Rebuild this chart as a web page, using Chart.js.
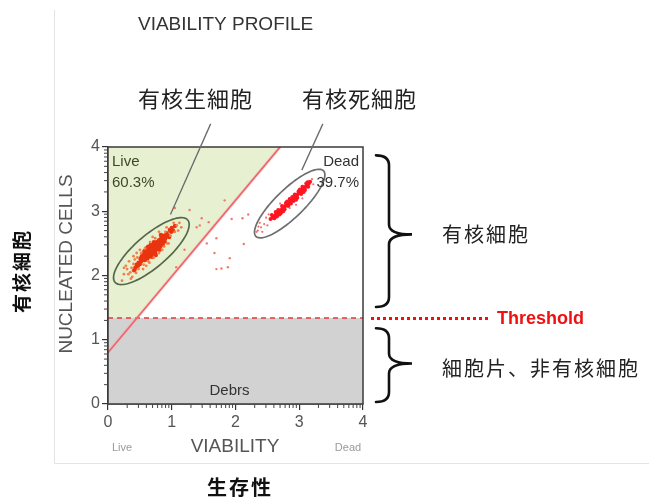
<!DOCTYPE html>
<html>
<head>
<meta charset="utf-8">
<script src="https://cdn.jsdelivr.net/npm/chart.js@4/dist/chart.umd.min.js"></script>
<style>
  html, body { margin: 0; padding: 0; background: #ffffff; }
  canvas { display: block; }
</style>
</head>
<body>
<canvas id="c" width="649" height="498"></canvas>
<script>
// ---------------- data ----------------
const chartTitle = 'VIABILITY PROFILE';
const xTickLabels = ['0', '1', '2', '3', '4'];
const yTickLabels = ['0', '1', '2', '3', '4'];
const xAxisTitle = 'VIABILITY';
const yAxisTitle = 'NUCLEATED CELLS';
const xEndLabels = ['Live', 'Dead'];
const gateNames = ['Live', 'Dead'];
const gatePercents = ['60.3%', '39.7%'];
const debrisLabel = 'Debrs';
const thresholdLabel = 'Threshold';
const threshold = 1.34;
const gateLine = [[0, 0.8], [2.7, 4]];
const calloutLive = '有核生細胞';
const calloutDead = '有核死細胞';
const nucleatedLabel = '有核細胞';
const debrisJa = '細胞片、非有核細胞';
const yAxisJa = '有核細胞';
const xAxisJa = '生存性';

const liveCells = [
  [0.62,2.33],[0.66,2.36],[0.70,2.40],[0.74,2.43],[0.78,2.47],[0.58,2.30],[0.55,2.27],[0.82,2.50],[0.86,2.54],[0.90,2.58],
  [0.64,2.40],[0.68,2.44],[0.72,2.47],[0.76,2.52],[0.60,2.36],[0.56,2.33],[0.80,2.55],[0.84,2.59],
  [0.66,2.30],[0.70,2.34],[0.74,2.37],[0.78,2.41],[0.62,2.27],[0.58,2.24],[0.82,2.45],[0.86,2.48],
  [0.52,2.22],[0.50,2.18],[0.48,2.20],[0.54,2.25],[0.94,2.62],[0.92,2.66],[0.96,2.60],[0.88,2.62],
  [0.60,2.42],[0.72,2.52],[0.67,2.48],[0.75,2.32],[0.69,2.29],[0.81,2.40],[0.57,2.38],[0.63,2.45],
  [0.71,2.38],[0.77,2.44],[0.65,2.34],[0.73,2.41],[0.79,2.50],[0.61,2.31],[0.69,2.42],[0.75,2.48],
  [0.85,2.52],[0.87,2.57],[0.83,2.63],[0.89,2.53],[0.53,2.30],[0.51,2.26],[0.47,2.15],[0.45,2.17],
  [0.99,2.68],[1.02,2.70],[1.00,2.74],[0.97,2.71],[1.05,2.77],[0.43,2.12],[0.41,2.08],
  [0.59,2.33],[0.63,2.37],[0.67,2.41],[0.71,2.44],[0.75,2.45],[0.79,2.44],[0.83,2.56],[0.77,2.49],[0.73,2.45],[0.65,2.38],
  [0.61,2.35],[0.57,2.27],[0.53,2.24],[0.69,2.37],[0.81,2.52],[0.87,2.60],[0.91,2.62],[0.68,2.47],[0.64,2.31],[0.72,2.36]
];
const liveHalo = [
  [0.35,2.05],[0.30,2.10],[0.38,1.98],[0.28,2.15],[0.33,2.22],[0.40,2.30],[0.45,2.35],[0.25,2.02],[0.36,1.95],
  [0.55,2.10],[0.60,2.15],[0.65,2.20],[0.85,2.40],[0.95,2.50],[1.10,2.70],[1.12,2.82],[0.80,2.68],[0.70,2.60],
  [0.92,2.75],[1.15,2.75],[0.50,2.40],[0.42,2.25],[0.25,2.12],[0.22,1.92],[1.08,2.78],
  [0.40,2.18],[0.46,2.28],[0.52,2.35],[0.58,2.42],[0.66,2.52],[0.74,2.58],[0.90,2.68],[0.98,2.62],[0.93,2.50],[0.88,2.45],
  [0.80,2.35],[0.72,2.28],[0.63,2.22],[0.56,2.17],[0.48,2.10],[0.44,2.04],[0.32,2.02],[0.37,2.12],[1.05,2.68],[1.03,2.82]
];
const deadCells = [
  [2.55,2.88],[2.58,2.90],[2.60,2.92],[2.62,2.93],[2.64,2.96],[2.66,2.97],[2.68,2.99],[2.70,3.01],[2.72,3.02],[2.74,3.05],
  [2.76,3.06],[2.78,3.08],[2.80,3.10],[2.82,3.12],[2.84,3.13],[2.86,3.16],[2.88,3.17],[2.90,3.19],[2.92,3.21],[2.94,3.23],
  [2.96,3.25],[2.98,3.27],[3.00,3.29],[3.02,3.31],[3.04,3.32],[3.06,3.35],[3.08,3.36],[3.10,3.38],[3.12,3.40],[3.15,3.43],
  [2.57,2.94],[2.61,2.89],[2.65,2.92],[2.67,3.02],[2.71,2.97],[2.73,3.08],[2.77,3.03],[2.79,3.13],[2.83,3.08],[2.85,3.19],
  [2.87,3.12],[2.91,3.16],[2.93,3.26],[2.97,3.21],[2.99,3.31],[3.03,3.27],[3.05,3.38],[3.09,3.33],[3.11,3.43],[3.14,3.38],
  [2.63,2.99],[2.69,2.95],[2.75,3.00],[2.81,3.15],[2.89,3.22],[2.95,3.18],[3.01,3.34],[3.07,3.30],[3.13,3.45],[3.17,3.46]
];
const deadTail = [
  [2.45,2.80],[2.40,2.75],[2.35,2.70],[2.38,2.82],[2.36,2.76],[2.42,2.68],[2.50,2.78],[2.48,2.90],[2.33,2.68],[2.52,2.95],
  [2.95,3.10],[3.05,3.20],[3.20,3.50],[2.70,3.12],[3.22,3.42],[2.85,3.05]
];
const strayCells = [
  [1.83,3.17],[1.94,2.88],[2.11,2.89],[1.70,2.58],[2.13,2.49],[1.67,2.35],[1.70,2.10],[1.78,2.11],[1.88,2.13],[1.91,2.27],
  [1.28,3.02],[1.39,2.75],[1.55,2.50],[1.07,2.13],[1.47,2.89],[1.58,2.83],[1.44,2.78],[1.20,2.40],[2.20,2.95],[1.05,3.05]
];

// gate ellipses (data units): centre, half major axis vector, half minor axis vector
const gates = [
  { cx: 0.68, cy: 2.38, ax: 0.57, ay: 0.485, bx: 0.165, by: -0.19, color: '#56684a' },
  { cx: 2.85, cy: 3.12, ax: 0.53, ay: 0.51, bx: 0.155, by: -0.158, color: '#6e6e6e' }
];
// callout leader lines (data units, may lie outside the plot)
const leaders = [
  [[0.98, 2.95], [1.61, 4.36]],
  [[3.04, 3.64], [3.37, 4.36]]
];

const toXY = arr => arr.map(p => ({ x: p[0], y: p[1] }));

// ---------------- helpers ----------------
function txt(ctx, s, x, y, font, color, align, baseline, spacing) {
  ctx.save();
  ctx.font = font;
  ctx.fillStyle = color;
  ctx.textAlign = align || 'left';
  ctx.textBaseline = baseline || 'middle';
  if (spacing) ctx.letterSpacing = spacing;
  ctx.fillText(s, x, y);
  ctx.restore();
}
function brace(ctx, x0, xs, xt, yTop, yMid, yBot) {
  const r = 10;
  ctx.beginPath();
  ctx.moveTo(x0, yTop);
  ctx.quadraticCurveTo(xs, yTop, xs, yTop + r);
  ctx.lineTo(xs, yMid - r);
  ctx.quadraticCurveTo(xs, yMid, xt, yMid);
  ctx.quadraticCurveTo(xs, yMid, xs, yMid + r);
  ctx.lineTo(xs, yBot - r);
  ctx.quadraticCurveTo(xs, yBot, x0, yBot);
  ctx.stroke();
}

const CJK = '"Noto Sans CJK JP", "Noto Sans CJK SC", sans-serif';
const LAT = '"Liberation Sans", Arial, sans-serif';

const decor = {
  id: 'decor',
  beforeDatasetsDraw(chart) {
    const { ctx, chartArea: a, scales: { x, y } } = chart;
    const yT = y.getPixelForValue(threshold);
    ctx.save();
    // debris region
    ctx.fillStyle = '#d2d2d2';
    ctx.fillRect(a.left, yT, a.right - a.left, a.bottom - yT);
    // live region (left of gate line, above threshold)
    const [p0, p1] = gateLine;
    const slope = (p1[1] - p0[1]) / (p1[0] - p0[0]);
    const xAtT = p0[0] + (threshold - p0[1]) / slope;
    ctx.fillStyle = '#e8f0d2';
    ctx.beginPath();
    ctx.moveTo(x.getPixelForValue(0), yT);
    ctx.lineTo(x.getPixelForValue(0), y.getPixelForValue(4));
    ctx.lineTo(x.getPixelForValue(p1[0]), y.getPixelForValue(p1[1]));
    ctx.lineTo(x.getPixelForValue(xAtT), yT);
    ctx.closePath();
    ctx.fill();
    ctx.restore();
  },
  afterDatasetsDraw(chart) {
    const { ctx, scales: { x, y } } = chart;
    ctx.save();
    gates.forEach(g => {
      ctx.beginPath();
      for (let i = 0; i <= 90; i++) {
        const t = i / 90 * Math.PI * 2;
        const dx = g.cx + g.ax * Math.cos(t) + g.bx * Math.sin(t);
        const dy = g.cy + g.ay * Math.cos(t) + g.by * Math.sin(t);
        const px = x.getPixelForValue(dx), py = y.getPixelForValue(dy);
        if (i === 0) ctx.moveTo(px, py); else ctx.lineTo(px, py);
      }
      ctx.strokeStyle = g.color;
      ctx.lineWidth = 1.7;
      ctx.stroke();
    });
    ctx.restore();
  },
  afterDraw(chart) {
    const { ctx, chartArea: a, scales: { x, y } } = chart;
    ctx.save();
    // plot frame
    ctx.strokeStyle = '#3a3a3a';
    ctx.lineWidth = 1.5;
    ctx.strokeRect(a.left, a.top, a.right - a.left, a.bottom - a.top);
    // minor (log-like) ticks
    ctx.lineWidth = 1;
    ctx.strokeStyle = '#444';
    for (let d = 0; d < 4; d++) {
      for (let k = 2; k <= 9; k++) {
        const v = d + Math.log10(k);
        const px = x.getPixelForValue(v);
        ctx.beginPath(); ctx.moveTo(px, a.bottom); ctx.lineTo(px, a.bottom + 4); ctx.stroke();
        const py = y.getPixelForValue(v);
        ctx.beginPath(); ctx.moveTo(a.left, py); ctx.lineTo(a.left - 4, py); ctx.stroke();
      }
    }
    // image frame
    ctx.strokeStyle = '#e4e4e4';
    ctx.lineWidth = 1;
    ctx.beginPath(); ctx.moveTo(54.5, 10); ctx.lineTo(54.5, 463.5); ctx.lineTo(649, 463.5); ctx.stroke();

    // leader lines
    ctx.strokeStyle = '#6a6a6a';
    ctx.lineWidth = 1.3;
    leaders.forEach(l => {
      ctx.beginPath();
      ctx.moveTo(x.getPixelForValue(l[0][0]), y.getPixelForValue(l[0][1]));
      ctx.lineTo(x.getPixelForValue(l[1][0]), y.getPixelForValue(l[1][1]));
      ctx.stroke();
    });

    // texts in plot
    txt(ctx, gateNames[0], a.left + 4, 162, '15px ' + LAT, '#3b4a26');
    txt(ctx, gatePercents[0], a.left + 4, 183, '15px ' + LAT, '#3b4a26');
    txt(ctx, gateNames[1], a.right - 4, 162, '15px ' + LAT, '#333', 'right');
    txt(ctx, gatePercents[1], a.right - 4, 183, '15px ' + LAT, '#333', 'right');
    txt(ctx, debrisLabel, x.getPixelForValue(2) - 6, 391, '15px ' + LAT, '#333', 'center');

    // titles
    txt(ctx, chartTitle, 138, 25, '19px ' + LAT, '#333');
    txt(ctx, calloutLive, 138, 99, '22px ' + CJK, '#222', 'left', 'middle', '1px');
    txt(ctx, calloutDead, 302, 99, '22px ' + CJK, '#222', 'left', 'middle', '1px');

    // axis titles
    txt(ctx, xAxisTitle, 235, 447, '19px ' + LAT, '#555', 'center');
    txt(ctx, xEndLabels[0], 122, 448, '11px ' + LAT, '#9a9a9a', 'center');
    txt(ctx, xEndLabels[1], 348, 448, '11px ' + LAT, '#9a9a9a', 'center');
    txt(ctx, xAxisJa, 240, 487, 'bold 20px ' + CJK, '#111', 'center', 'middle', '2px');
    ctx.save();
    ctx.translate(67, 264);
    ctx.rotate(-Math.PI / 2);
    txt(ctx, yAxisTitle, 0, 0, '19px ' + LAT, '#555', 'center');
    ctx.restore();
    ctx.save();
    ctx.translate(22, 271);
    ctx.rotate(-Math.PI / 2);
    txt(ctx, yAxisJa, 0, 0, 'bold 19px ' + CJK, '#111', 'center', 'middle', '2px');
    ctx.restore();

    // threshold extension
    const yT = Math.round(y.getPixelForValue(threshold));
    ctx.fillStyle = '#ff0a0a';
    for (let px = a.right + 8; px < 486; px += 6) {
      ctx.fillRect(px, yT - 1, 3, 3);
    }
    txt(ctx, thresholdLabel, 497, yT + 1, 'bold 18px ' + LAT, '#ee1111');

    // braces
    ctx.strokeStyle = '#111';
    ctx.lineWidth = 2.6;
    ctx.lineCap = 'round';
    brace(ctx, 376, 389, 412, y.getPixelForValue(3.87), y.getPixelForValue(2.64), y.getPixelForValue(1.51));
    brace(ctx, 376, 389, 412, y.getPixelForValue(1.18), y.getPixelForValue(0.63), y.getPixelForValue(0.03));
    txt(ctx, nucleatedLabel, 442, 234, '20px ' + CJK, '#222', 'left', 'middle', '2px');
    txt(ctx, debrisJa, 442, 368, '20px ' + CJK, '#222', 'left', 'middle', '2px');
    ctx.restore();
  }
};

new Chart(document.getElementById('c'), {
  type: 'scatter',
  data: {
    datasets: [
      { label: 'Stray', data: toXY(strayCells), pointRadius: 1.2, backgroundColor: '#f07a68', borderWidth: 0 },
      { label: 'Dead tail', data: toXY(deadTail), pointRadius: 1.1, backgroundColor: '#f27070', borderWidth: 0 },
      { label: 'Live halo', data: toXY(liveHalo), pointRadius: 1.4, backgroundColor: '#f08048', borderWidth: 0 },
      { label: 'Live', data: toXY(liveCells), pointRadius: 2.2, backgroundColor: '#ea3410', borderWidth: 0 },
      { label: 'Dead', data: toXY(deadCells), pointRadius: 2.0, backgroundColor: '#ff1420', borderWidth: 0 },
      { label: 'Gate halo', data: toXY(gateLine), showLine: true, borderColor: 'rgba(245,160,160,0.5)', borderWidth: 3, pointRadius: 0 },
      { label: 'Gate', data: toXY(gateLine), showLine: true, borderColor: '#e8202a', borderWidth: 1.5, pointRadius: 0 },
      { label: 'Threshold', data: [{ x: 0, y: threshold }, { x: 4, y: threshold }], showLine: true, borderColor: '#e63838', borderWidth: 1.5, borderDash: [5, 4], pointRadius: 0 }
    ]
  },
  options: {
    responsive: false,
    animation: false,
    events: [],
    layout: { padding: { left: 68, right: 286, top: 147, bottom: 64 } },
    plugins: { legend: { display: false }, tooltip: { enabled: false }, title: { display: false } },
    scales: {
      x: {
        type: 'linear', min: 0, max: 4,
        ticks: { stepSize: 1, color: '#555', font: { family: LAT, size: 16 }, padding: 3, maxRotation: 0,
                 callback: v => xTickLabels[v] },
        grid: { drawOnChartArea: false, drawTicks: true, tickLength: 6, color: '#333', lineWidth: 1.2 },
        border: { display: true, color: '#3a3a3a', width: 1.5 },
        afterFit: s => { s.height = 30; }
      },
      y: {
        type: 'linear', min: 0, max: 4,
        ticks: { stepSize: 1, color: '#555', font: { family: LAT, size: 16 }, padding: 2,
                 callback: v => yTickLabels[v] },
        grid: { drawOnChartArea: false, drawTicks: true, tickLength: 6, color: '#333', lineWidth: 1.2 },
        border: { display: true, color: '#3a3a3a', width: 1.5 },
        afterFit: s => { s.width = 40; }
      }
    }
  },
  plugins: [decor]
});
</script>
</body>
</html>
